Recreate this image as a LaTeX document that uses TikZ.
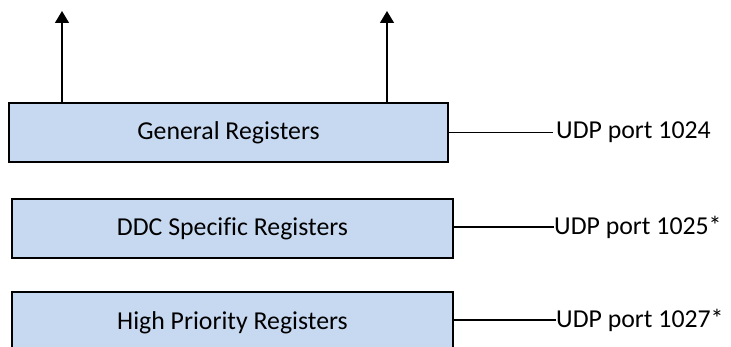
\documentclass[tikz,border=0pt]{standalone}
\usepackage{fontspec}
\setmainfont{Carlito}[Ligatures=NoCommon]
\usetikzlibrary{arrows.meta}
\definecolor{boxfill}{RGB}{198,217,241}
\begin{document}
\begin{tikzpicture}[x=1pt,y=-1pt,
  regbox/.style={draw=black,line width=1.4pt,fill=boxfill,minimum width=#1,minimum height=59pt,inner sep=0pt,font=\fontsize{25.8}{30}\selectfont},
  portlabel/.style={anchor=west,inner ysep=0pt,font=\fontsize{25.8}{30}\selectfont},
  conn/.style={line width=1.2pt},
  uparrow/.style={line width=1.4pt,-{Triangle[length=12pt,width=14pt]}}]
\useasboundingbox (0,0) rectangle (731,347);
\node[regbox=439pt] (g) at (228.5,132.5) {\raisebox{-1.5pt}{General Registers}};
\node[regbox=441pt] (d) at (232.5,228.5) {\raisebox{-1pt}{DDC Specific Registers}};
\node[regbox=441pt,text depth=0pt] (h) at (232.5,321.5) {\raisebox{1pt}{High Priority Registers}};
\coordinate (t1) at (62,11);
\coordinate (t2) at (387,11);
\draw[uparrow] (g.north -| t1) -- (t1);
\draw[uparrow] (g.north -| t2) -- (t2);
\node[portlabel,inner xsep=3pt] (p1) at (553,132.5) {\raisebox{-1.5pt}{UDP port 1024}};
\node[portlabel,inner xsep=0pt] (p2) at (554,227) {\raisebox{-1.5pt}{UDP port 1025*}};
\node[portlabel,inner xsep=0pt] (p3) at (556,320) {\raisebox{-1.5pt}{UDP port 1027*}};
\draw[conn] (g.east) -- (p1.west);
\draw[conn] (d.east |- p2.west) -- (p2.west);
\draw[conn] (h.east |- p3.west) -- (p3.west);
\end{tikzpicture}
\end{document}
